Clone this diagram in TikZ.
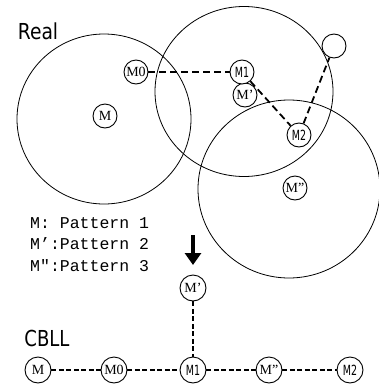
\documentclass[tikz,border=0pt]{standalone}
\usepackage{fontspec}
\usepackage{graphicx}
\setmainfont{Liberation Serif}
\newfontfamily\gothic{DejaVu Sans}
\newfontfamily\legendfont{Liberation Mono}
\usetikzlibrary{arrows.meta}
% narrow gothic labels for M1 / M2
\newcommand{\narrowlbl}[1]{\scalebox{0.68}[1]{\gothic #1}}
\begin{document}
\begin{tikzpicture}[x=1pt,y=-1pt,
  zone/.style={draw, line width=0.8pt},
  mnode/.style={circle, draw, line width=0.9pt, fill=white, minimum size=24pt,
    inner sep=0pt, font=\fontsize{14}{14}\selectfont},
  bnode/.style={mnode, minimum size=26pt},
  link/.style={line width=1.8pt, dash pattern=on 7pt off 4pt},
  chain/.style={line width=1.8pt, dash pattern=on 5pt off 2.5pt},
  heading/.style={inner sep=0pt, font=\gothic\fontsize{22}{22}\selectfont},
  legend/.style={inner sep=0pt, anchor=base west, font=\legendfont\fontsize{16.5}{16.5}\selectfont}]
\useasboundingbox (0,0) rectangle (378,386);

% coverage areas
\draw[zone] (104,119) ellipse [x radius=87pt, y radius=85pt];
\draw[zone] (244,91.5) ellipse [x radius=89pt, y radius=85pt];
\draw[zone] (289,189) ellipse [x radius=91pt, y radius=89pt];

% real layout
\node[heading] (real) at (38,31.5) {\scalebox{0.85}[1]{Real}};
\node[mnode] (m)   at (105,116) {M};
\node[mnode] (m0)  at (136,72)  {M0};
\node[mnode] (mp)  at (245,95)  {M’};
\node[mnode] (m1)  at (242,72)  {\narrowlbl{M1}};
\node[mnode] (m2)  at (299,135) {\narrowlbl{M2}};
\node[mnode] (mpp) at (295,188) {M"};
\node[mnode] (aux) at (334,46)  {};

\draw[link] (m0) -- (m1);
\draw[link] (m1) -- (m2);
\draw[link] (m2) -- (aux);

% legend
\node[legend] (l1) at (30,228) {M: Pattern 1};
\node[legend] (l2) at (30,249) {M’:Pattern 2};
\node[legend] (l3) at (30,271) {M":Pattern 3};

% transformation arrow
\coordinate (arrowtop) at (193,235);
\coordinate (arrowtip) at (193,265);
\draw[line width=4.5pt, -{Triangle[length=12pt, width=16pt]}] (arrowtop) -- (arrowtip);

% CBLL chain
\node[heading] (cbll) at (47,338) {\scalebox{0.82}[1]{CBLL}};
\node[bnode] (bmp)  at (193,288) {M’};
\node[bnode] (bm)   at (38,370)  {M};
\node[bnode] (bm0)  at (114,370) {M0};
\node[bnode] (bm1)  at (193,370) {\narrowlbl{M1}};
\node[bnode] (bmpp) at (269,370) {M"};
\node[bnode] (bm2)  at (350,370) {\narrowlbl{M2}};

\draw[chain] (bmp) -- (bm1);
\draw[chain] (bm) -- (bm0);
\draw[chain] (bm0) -- (bm1);
\draw[chain] (bm1) -- (bmpp);
\draw[chain] (bmpp) -- (bm2);
\end{tikzpicture}
\end{document}
